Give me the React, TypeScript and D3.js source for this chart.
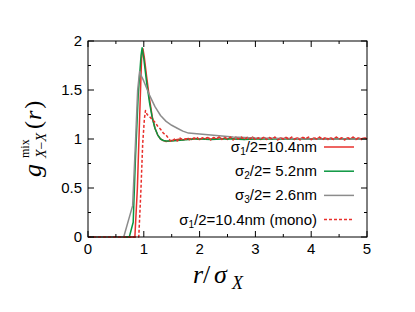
import React from "react";
import * as d3 from "d3";

// g(r) for each system as [r/sigma, g]
const sigma1: [number, number][] = [
  [0, 0], [0.84, 0], [0.885, 0.5], [0.93, 1.3], [0.96, 1.82], [0.985, 1.92], [1.01, 1.83],
  [1.05, 1.64], [1.1, 1.42], [1.15, 1.23], [1.2, 1.11], [1.25, 1.04], [1.3, 1.0], [1.35, 0.985],
  [1.4, 0.975], [1.45, 0.98], [1.5, 0.985], [1.55, 0.99], [1.6, 0.995], [1.65, 1.0], [1.7, 0.99],
  [1.75, 1.0], [1.8, 1.005], [1.85, 0.995], [1.9, 1.01], [1.95, 1.0], [2.0, 0.995], [2.05, 1.01],
  [2.1, 1.0], [2.15, 1.015], [2.2, 0.995], [2.25, 1.01], [2.3, 1.0], [2.35, 1.02], [2.4, 1.0],
  [2.45, 1.01], [2.5, 0.995], [2.55, 1.015], [2.6, 1.0], [2.65, 1.02], [2.7, 1.0], [2.75, 1.01],
  [2.8, 0.995], [2.85, 1.015], [2.9, 1.0], [2.95, 1.02], [3.0, 1.0], [3.05, 1.01], [3.1, 0.995],
  [3.15, 1.015], [3.2, 1.0], [3.25, 1.01], [3.3, 1.0], [3.35, 1.015], [3.4, 0.995], [3.45, 1.01],
  [3.5, 1.0], [3.55, 1.015], [3.6, 1.0], [3.65, 1.01], [3.7, 0.995], [3.75, 1.01], [3.8, 1.0],
  [3.85, 1.015], [3.9, 1.0], [3.95, 1.01], [4.0, 0.995], [4.05, 1.01], [4.1, 1.0], [4.15, 1.015],
  [4.2, 1.0], [4.25, 1.01], [4.3, 0.995], [4.35, 1.01], [4.4, 1.0], [4.45, 1.015], [4.5, 1.0],
  [4.55, 1.01], [4.6, 0.995], [4.65, 1.01], [4.7, 1.0], [4.75, 1.015], [4.8, 1.0], [4.85, 1.01],
  [4.9, 0.995], [4.95, 1.01], [5.0, 1.0],
];

const sigma2: [number, number][] = [
  [0, 0], [0.74, 0], [0.81, 0.15], [0.85, 0.8], [0.9, 1.45], [0.95, 1.85], [0.97, 1.93],
  [1.0, 1.82], [1.05, 1.58], [1.1, 1.38], [1.15, 1.22], [1.2, 1.11], [1.25, 1.04], [1.3, 1.0],
  [1.35, 0.985], [1.4, 0.98], [1.5, 0.98], [1.6, 0.985], [1.7, 0.99], [1.8, 0.995], [1.9, 1.0],
  [2.0, 1.0], [2.2, 0.995], [2.4, 1.0], [2.6, 1.0], [2.8, 0.995], [3.0, 1.0], [3.5, 1.0],
  [4.0, 1.0], [4.5, 1.0], [5.0, 1.0],
];

const sigma3: [number, number][] = [
  [0, 0], [0.64, 0], [0.8, 0.32], [0.85, 0.95], [0.89, 1.5], [0.925, 1.69], [0.96, 1.64],
  [1.0, 1.59], [1.05, 1.52], [1.1, 1.45], [1.2, 1.33], [1.3, 1.24], [1.4, 1.18], [1.5, 1.14],
  [1.6, 1.11], [1.7, 1.08], [1.8, 1.06], [1.9, 1.055], [2.0, 1.05], [2.2, 1.04], [2.4, 1.03],
  [2.6, 1.02], [2.8, 1.015], [3.0, 1.01], [3.5, 1.005], [4.0, 1.0], [5.0, 1.0],
];

const sigma1Mono: [number, number][] = [
  [0, 0], [0.91, 0], [0.95, 0.5], [0.98, 0.95], [1.01, 1.2], [1.03, 1.29], [1.06, 1.25],
  [1.1, 1.23], [1.15, 1.2], [1.2, 1.17], [1.25, 1.13], [1.3, 1.1], [1.35, 1.06], [1.4, 1.04],
  [1.45, 1.0], [1.5, 0.97], [1.55, 1.0], [1.6, 0.98], [1.65, 1.01], [1.7, 0.99], [1.75, 1.0],
  [1.8, 0.985], [1.85, 1.01], [1.9, 1.0], [1.95, 1.02], [2.0, 0.99], [2.05, 1.01], [2.1, 1.0],
  [2.15, 1.02], [2.2, 0.99], [2.25, 1.015], [2.3, 1.0], [2.35, 1.02], [2.4, 0.995], [2.45, 1.015],
  [2.5, 1.0], [2.55, 1.02], [2.6, 0.99], [2.65, 1.01], [2.7, 1.0], [2.75, 1.02], [2.8, 0.995],
  [2.85, 1.015], [2.9, 1.0], [2.95, 1.02], [3.0, 0.99], [3.05, 1.01], [3.1, 1.0], [3.15, 1.02],
  [3.2, 0.995], [3.25, 1.015], [3.3, 1.0], [3.35, 1.02], [3.4, 0.99], [3.45, 1.01], [3.5, 1.0],
  [3.55, 1.015], [3.6, 0.995], [3.65, 1.02], [3.7, 1.0], [3.75, 1.01], [3.8, 0.99], [3.85, 1.015],
  [3.9, 1.0], [3.95, 1.02], [4.0, 0.995], [4.05, 1.01], [4.1, 1.0], [4.15, 1.02], [4.2, 0.99],
  [4.25, 1.015], [4.3, 1.0], [4.35, 1.01], [4.4, 0.995], [4.45, 1.02], [4.5, 1.0], [4.55, 1.01],
  [4.6, 0.99], [4.65, 1.015], [4.7, 1.0], [4.75, 1.02], [4.8, 0.995], [4.85, 1.01], [4.9, 1.0],
  [4.95, 1.015], [5.0, 1.0],
];

const series = [
  { sub: "1", rest: "/2=10.4nm", data: sigma1, color: "#e8302c", dash: "" },
  { sub: "2", rest: "/2= 5.2nm", data: sigma2, color: "#0a9640", dash: "" },
  { sub: "3", rest: "/2= 2.6nm", data: sigma3, color: "#8c8c8c", dash: "" },
  { sub: "1", rest: "/2=10.4nm (mono)", data: sigma1Mono, color: "#e8302c", dash: "3,2" },
];

const xTicks = [0, 1, 2, 3, 4, 5];
const xMinor = [0.5, 1.5, 2.5, 3.5, 4.5];
const yTicks = [0, 0.5, 1, 1.5, 2];
const yMinor = [0.25, 0.75, 1.25, 1.75];

const W = 415, H = 312;
const left = 88, right = 367, top = 41, bottom = 237;

export default function App() {
  const x = d3.scaleLinear().domain([0, 5]).range([left, right]);
  const y = d3.scaleLinear().domain([0, 2]).range([bottom, top]);
  const line = d3.line<[number, number]>().x(d => x(d[0])).y(d => y(d[1]));
  const sans = "'Liberation Sans', Arial, sans-serif";
  const serif = "'Liberation Serif', 'Times New Roman', serif";

  return (
    <svg width={W} height={H} style={{ position: "absolute", left: 0, top: 0 }}>
      <rect width={W} height={H} fill="#fff" />
      <g fill="none">
        {series.map((s, i) => (
          <path key={i} d={line(s.data) || ""} stroke={s.color} strokeWidth={1.5}
            strokeDasharray={s.dash || undefined} strokeLinejoin="round" />
        ))}
      </g>
      <rect x={left} y={top} width={right - left} height={bottom - top} fill="none" stroke="#000" strokeWidth={1} />
      <g stroke="#000" strokeWidth={1}>
        {xTicks.concat(xMinor).map((t, i) => {
          const len = xTicks.includes(t) ? 6 : 3;
          return (
            <g key={i}>
              <line x1={x(t)} x2={x(t)} y1={bottom} y2={bottom - len} />
              <line x1={x(t)} x2={x(t)} y1={top} y2={top + len} />
            </g>
          );
        })}
        {yTicks.concat(yMinor).map((t, i) => {
          const len = yTicks.includes(t) ? 6 : 3;
          return (
            <g key={i}>
              <line x1={left} x2={left + len} y1={y(t)} y2={y(t)} />
              <line x1={right} x2={right - len} y1={y(t)} y2={y(t)} />
            </g>
          );
        })}
      </g>
      <g fontFamily={sans} fontSize={15} fill="#000">
        {xTicks.map(t => (
          <text key={t} x={x(t)} y={bottom + 17} textAnchor="middle">{t}</text>
        ))}
        {yTicks.map(t => (
          <text key={t} x={left - 6} y={y(t) + 5} textAnchor="end">{t}</text>
        ))}
      </g>
      <g fontFamily={sans} fontSize={15}>
        {series.map((s, i) => {
          const ly = 147 + i * 24.2;
          return (
            <g key={i}>
              <text x={317} y={ly + 5} textAnchor="end">
                σ<tspan fontSize={10} dy={3}>{s.sub}</tspan><tspan dy={-3}>{s.rest}</tspan>
              </text>
              <line x1={324} x2={354} y1={ly} y2={ly} stroke={s.color} strokeWidth={1.5}
                strokeDasharray={s.dash || undefined} />
            </g>
          );
        })}
      </g>
      <g fontFamily={serif} fontStyle="italic">
        <text x={193} y={283} fontSize={26}>r</text>
        <text x={203} y={283} fontSize={26} fontStyle="normal">/</text>
        <text x={214} y={283} fontSize={26}>σ</text>
        <text x={232} y={289} fontSize={18}>X</text>
      </g>
      <g transform="translate(41,177) rotate(-90)" fontFamily={serif}>
        <text x={0} y={0} fontSize={26} fontStyle="italic">g</text>
        <text x={19} y={-12} fontSize={12}>mix</text>
        <text x={19} y={5} fontSize={14}>
          <tspan fontStyle="italic">X</tspan>−<tspan fontStyle="italic">X</tspan>
        </text>
        <text x={48} y={0} fontSize={24}>
          (<tspan fontStyle="italic" dx={1}>r</tspan><tspan dx={2}>)</tspan>
        </text>
      </g>
    </svg>
  );
}
